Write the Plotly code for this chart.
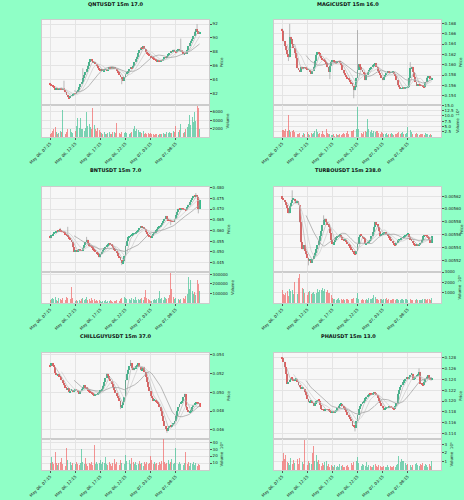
import plotly.graph_objects as go
import pandas as pd

# ---------------- data ----------------
titles = ["QNTUSDT 15m 17.0", "MAGICUSDT 15m 16.0", "BNTUSDT 15m 7.0",
          "TURBOUSDT 15m 238.0", "CHILLGUYUSDT 15m 37.0", "PHAUSDT 15m 13.0"]

tick_labels = ["May 06, 07:15", "May 06, 12:15", "May 06, 17:15",
               "May 06, 22:15", "May 07, 03:15", "May 07, 08:15"]
tick_index = [0, 20, 40, 60, 80, 100]

qnt_close = [83.3,83.1,82.9,82.8,82.6,82.7,82.5,82.6,82.8,82.6,
 82.7,82.4,82.1,81.8,81.5,81.3,81.6,81.7,81.8,82.0,
 81.9,82.2,82.5,82.9,83.3,83.6,84.2,84.6,85.0,85.5,
 86.0,86.5,86.9,86.6,86.4,86.5,86.2,85.9,85.6,85.4,
 85.3,85.5,85.2,85.4,85.4,85.3,85.5,85.7,85.6,85.8,
 85.6,85.8,85.5,85.2,85.0,84.7,84.4,84.1,83.8,84.3,
 84.8,85.0,85.2,85.5,85.7,85.6,86.0,86.5,86.9,87.3,
 87.8,88.2,88.6,88.5,88.8,88.4,88.0,87.8,87.6,87.4,
 87.2,87.1,87.0,86.9,86.8,86.6,86.7,86.6,86.8,86.7,
 86.9,87.2,87.1,87.4,87.6,87.8,88.1,88.0,88.3,88.1,
 87.9,88.2,88.4,88.1,88.2,87.9,87.6,87.8,87.7,88.2,
 88.8,89.2,89.6,89.9,90.3,90.9,91.3,91.0,90.6,90.8]
qnt_vol = [600,900,1500,1800,2400,1200,800,1000,1500,1200,
 6400,900,700,1200,1800,3600,2000,1100,900,1300,
 1500,2500,4600,2200,4600,1800,2000,1500,2200,6000,
 2600,3000,2400,2000,7000,2800,1800,1500,2200,1600,
 1200,900,800,1100,700,600,900,1200,700,800,
 1300,1100,900,3400,1400,1000,800,1200,1500,1000,
 1100,900,1300,700,1000,1200,1800,2600,1500,2000,
 1600,1300,1200,1000,1500,800,900,700,1000,600,
 900,700,800,500,600,700,500,600,800,600,
 900,800,700,1200,900,1100,1000,900,1400,1200,
 2600,1500,1200,1600,3200,1400,1000,1200,1800,2400,
 3000,5200,2800,4800,3600,6000,3800,7400,6800,2000]

magic_close = [0.1666,0.1645,0.1636,0.1628,0.1620,0.1614,0.1654,0.1649,0.1640,0.1632,
 0.1622,0.1612,0.1593,0.1590,0.1586,0.1596,0.1593,0.1595,0.1594,0.1592,
 0.1590,0.1590,0.1586,0.1582,0.1588,0.1596,0.1608,0.1619,0.1624,0.1622,
 0.1616,0.1612,0.1610,0.1609,0.1606,0.1603,0.1595,0.1586,0.1598,0.1606,
 0.1609,0.1606,0.1604,0.1603,0.1607,0.1606,0.1604,0.1599,0.1590,0.1583,
 0.1580,0.1577,0.1574,0.1570,0.1567,0.1564,0.1558,0.1550,0.1556,0.1575,
 0.1590,0.1601,0.1596,0.1590,0.1586,0.1583,0.1570,0.1580,0.1586,0.1590,
 0.1593,0.1596,0.1599,0.1601,0.1603,0.1596,0.1588,0.1584,0.1580,0.1575,
 0.1570,0.1576,0.1580,0.1584,0.1586,0.1585,0.1584,0.1585,0.1586,0.1582,
 0.1578,0.1570,0.1561,0.1556,0.1553,0.1554,0.1555,0.1554,0.1555,0.1556,
 0.1556,0.1575,0.1593,0.1596,0.1586,0.1577,0.1567,0.1559,0.1562,0.1561,
 0.1560,0.1559,0.1557,0.1556,0.1566,0.1575,0.1577,0.1578,0.1572,0.1574]
magic_vol = [3.2,3.5,2.8,3.6,3.0,10.3,3.4,2.2,3.0,3.3,
 2.5,1.8,1.2,1.6,2.0,1.4,1.0,1.8,1.2,1.6,
 2.2,1.5,1.0,1.8,1.2,2.0,2.8,3.6,2.4,1.5,
 1.8,1.2,2.6,1.4,1.0,3.8,2.0,1.2,1.6,1.0,
 0.8,1.2,0.6,1.4,1.0,0.8,1.2,0.9,1.6,2.0,
 1.2,1.8,2.6,1.6,2.2,2.8,3.0,3.4,3.2,4.0,
 14.0,3.6,2.8,2.0,1.6,2.4,3.0,2.2,8.3,3.6,
 2.5,3.2,2.0,2.8,2.2,3.0,2.6,2.0,1.6,2.4,
 1.8,1.4,1.2,1.8,1.0,1.6,1.2,2.0,1.4,1.1,
 1.5,1.2,1.8,2.2,1.6,1.9,2.4,1.2,1.5,2.0,
 4.8,2.6,3.4,2.2,1.6,2.0,1.4,1.8,1.2,1.0,
 1.6,1.2,1.4,1.0,1.8,1.3,1.6,1.1,1.4,1.0]

bnt_close = [0.4564,0.4578,0.4584,0.4590,0.4592,0.4598,0.4595,0.4601,0.4600,0.4597,
 0.4594,0.4592,0.4583,0.4576,0.4570,0.4564,0.4556,0.4548,0.4522,0.4500,
 0.4506,0.4500,0.4509,0.4513,0.4508,0.4505,0.4520,0.4532,0.4545,0.4557,
 0.4540,0.4529,0.4524,0.4521,0.4512,0.4505,0.4500,0.4494,0.4486,0.4474,
 0.4488,0.4500,0.4510,0.4516,0.4525,0.4532,0.4538,0.4541,0.4535,0.4529,
 0.4520,0.4513,0.4504,0.4494,0.4482,0.4474,0.4460,0.4447,0.4455,0.4482,
 0.4529,0.4550,0.4568,0.4572,0.4576,0.4580,0.4584,0.4588,0.4592,0.4596,
 0.4600,0.4610,0.4620,0.4612,0.4615,0.4605,0.4592,0.4584,0.4576,0.4570,
 0.4568,0.4576,0.4584,0.4592,0.4600,0.4608,0.4615,0.4620,0.4624,0.4635,
 0.4643,0.4655,0.4668,0.4655,0.4647,0.4645,0.4643,0.4641,0.4640,0.4655,
 0.4671,0.4688,0.4702,0.4700,0.4702,0.4701,0.4699,0.4696,0.4694,0.4708,
 0.4721,0.4732,0.4742,0.4752,0.4762,0.4760,0.4765,0.4758,0.4700,0.4742]
bnt_vol = [30000,45000,55000,40000,60000,35000,25000,50000,40000,30000,
 55000,45000,30000,60000,50000,35000,40000,168000,50000,40000,
 25000,30000,20000,35000,25000,40000,50000,30000,45000,60000,
 35000,40000,25000,55000,30000,45000,20000,35000,25000,30000,
 20000,15000,25000,20000,30000,15000,20000,25000,30000,20000,
 15000,25000,20000,30000,35000,25000,40000,55000,45000,60000,
 50000,40000,30000,45000,35000,55000,40000,30000,60000,35000,
 45000,30000,40000,50000,35000,60000,133000,55000,40000,35000,
 20000,25000,30000,45000,35000,40000,55000,120000,45000,50000,
 35000,60000,50000,45000,55000,80000,316000,150000,60000,45000,
 50000,55000,40000,35000,45000,60000,55000,40000,75000,95000,
 274000,150000,240000,120000,90000,110000,80000,240000,200000,120000]

turbo_close = [0.005616,0.005614,0.005611,0.005606,0.005601,0.005593,0.005604,0.005610,0.005614,0.005616,
 0.005613,0.005610,0.005612,0.005606,0.005579,0.005548,0.005537,0.005543,0.005535,0.005529,
 0.005524,0.005519,0.005521,0.005516,0.005522,0.005527,0.005532,0.005537,0.005543,0.005550,
 0.005558,0.005566,0.005575,0.005582,0.005585,0.005579,0.005576,0.005572,0.005562,0.005551,
 0.005545,0.005548,0.005552,0.005556,0.005557,0.005558,0.005560,0.005556,0.005553,0.005551,
 0.005552,0.005549,0.005546,0.005543,0.005540,0.005537,0.005534,0.005531,0.005529,0.005534,
 0.005545,0.005556,0.005560,0.005558,0.005556,0.005554,0.005545,0.005547,0.005548,0.005550,
 0.005551,0.005557,0.005564,0.005572,0.005579,0.005576,0.005572,0.005565,0.005558,0.005560,
 0.005561,0.005563,0.005564,0.005561,0.005558,0.005556,0.005553,0.005550,0.005547,0.005545,
 0.005543,0.005547,0.005551,0.005552,0.005553,0.005555,0.005556,0.005557,0.005558,0.005560,
 0.005561,0.005556,0.005552,0.005550,0.005547,0.005545,0.005543,0.005544,0.005543,0.005545,
 0.005547,0.005552,0.005557,0.005559,0.005558,0.005557,0.005556,0.005551,0.005547,0.005558]
turbo_vol = [1230,900,800,1000,1140,700,1380,1200,1230,900,
 1990,700,900,2460,2770,2620,1500,1380,1000,1020,
 800,1080,1140,900,1000,1080,900,1000,1380,1100,
 1230,1300,1450,1200,1380,1100,1230,1000,920,800,
 500,350,420,300,380,450,320,400,280,350,
 300,420,380,300,260,350,400,450,380,500,
 920,420,350,300,400,330,280,380,300,450,
 350,420,500,760,550,400,350,300,420,380,
 280,350,400,450,300,380,320,280,350,400,
 300,360,420,330,280,350,400,300,380,420,
 320,280,350,300,260,380,300,340,280,320,
 260,300,350,420,380,300,360,400,330,450]

chill_close = [0.05275,0.05304,0.05285,0.05268,0.05204,0.05179,0.05190,0.05170,0.05161,0.05125,
 0.05100,0.05071,0.05050,0.05025,0.05040,0.05000,0.05015,0.05025,0.05010,0.05018,
 0.05030,0.05025,0.05000,0.04982,0.05010,0.05036,0.05055,0.05071,0.05050,0.05036,
 0.05020,0.05007,0.04995,0.04982,0.04970,0.04964,0.04970,0.04975,0.04990,0.05000,
 0.05018,0.05036,0.05070,0.05107,0.05150,0.05196,0.05170,0.05143,0.05115,0.05089,
 0.05050,0.05018,0.04990,0.04964,0.04940,0.04911,0.04839,0.04860,0.04900,0.04946,
 0.05125,0.05190,0.05239,0.05275,0.05304,0.05260,0.05232,0.05255,0.05275,0.05290,
 0.05304,0.05270,0.05232,0.05250,0.05268,0.05210,0.05161,0.05110,0.05054,0.05010,
 0.04964,0.04940,0.04911,0.04920,0.04904,0.04890,0.04875,0.04840,0.04804,0.04750,
 0.04696,0.04643,0.04610,0.04589,0.04620,0.04643,0.04635,0.04654,0.04670,0.04689,
 0.04750,0.04804,0.04840,0.04875,0.04890,0.04904,0.04950,0.04982,0.04839,0.04810,
 0.04786,0.04795,0.04804,0.04840,0.04868,0.04880,0.04893,0.04890,0.04882,0.04846]
chill_vol = [9.5,19,12,8,26,10,7,9.5,12,17,
 8,10,6,32,14,9,11,7,10,6,
 8,12,9,7,10,30,12,8,17,9,
 6,10,8,12,7,36,9,11,8,10,
 15,8,12,10,19,9,7,11,8,6,
 10,16,8,12,9,7,14,10,12,9,
 21,13,10,15,9,17,11,8,12,7,
 9,13,8,10,6,11,8,12,9,10,
 20,14,9,12,8,10,7,12,9,13,
 44,12,8,10,14,9,11,16,8,10,
 31,17,9,12,8,11,7,10,26,9,
 12,6,10,8,11,7,10,6,9,7]

pha_close = [0.12785,0.12723,0.12620,0.12506,0.12319,0.12350,0.12390,0.12430,0.12412,0.12381,
 0.12400,0.12412,0.12350,0.12288,0.12250,0.12226,0.12240,0.12226,0.12160,0.12102,
 0.12040,0.11978,0.11990,0.12009,0.11960,0.11916,0.11960,0.11996,0.12020,0.12009,
 0.11930,0.11853,0.11840,0.11822,0.11840,0.11853,0.11835,0.11822,0.11805,0.11791,
 0.11800,0.11791,0.11810,0.11822,0.11870,0.11916,0.11930,0.11947,0.11910,0.11884,
 0.11840,0.11791,0.11750,0.11711,0.11670,0.11636,0.11543,0.11530,0.11512,0.11636,
 0.11750,0.11853,0.11900,0.11947,0.11980,0.12009,0.12050,0.12083,0.12110,0.12133,
 0.12125,0.12120,0.12140,0.12164,0.12140,0.12102,0.12060,0.12009,0.11960,0.11916,
 0.11880,0.11853,0.11860,0.11872,0.11885,0.11897,0.11890,0.11884,0.11870,0.11853,
 0.11900,0.11959,0.12133,0.12200,0.12257,0.12300,0.12350,0.12380,0.12412,0.12430,
 0.12420,0.12443,0.12480,0.12506,0.12394,0.12420,0.12450,0.12475,0.12500,0.12537,
 0.12319,0.12300,0.12288,0.12350,0.12412,0.12450,0.12475,0.12430,0.12381,0.12431]
pha_vol = [1.0,2.0,1.3,1.8,0.9,0.8,0.6,1.4,0.7,1.2,
 0.8,0.6,1.3,0.7,1.4,0.5,0.9,0.7,3.5,2.5,
 0.6,1.0,0.8,0.7,2.0,2.8,1.0,1.8,0.9,1.2,
 0.7,0.5,0.8,0.6,0.9,1.0,0.5,0.7,0.4,0.6,
 0.5,0.4,0.6,0.3,0.5,0.4,0.7,0.5,0.6,0.4,
 0.3,0.5,0.6,0.4,0.7,0.8,0.6,0.9,0.7,1.0,
 1.5,0.8,0.6,0.5,0.7,0.6,0.5,0.9,0.4,0.6,
 0.5,0.3,0.4,0.6,0.7,0.5,0.4,0.6,0.5,0.3,
 0.4,0.5,0.3,0.4,0.6,0.3,0.5,0.4,0.3,0.5,
 0.4,0.6,0.7,1.6,0.9,1.3,1.0,1.1,0.8,0.6,
 0.7,0.5,0.6,0.4,0.6,0.5,0.7,0.8,0.6,0.5,
 0.7,0.6,0.8,0.5,0.7,0.6,0.4,0.7,0.5,1.1]

first_open = [83.5, 0.1670, 0.4575, 0.005620, 0.05290, 0.12800]

# wick extremes beyond the candle bodies: index -> (high, low)
qnt_wicks = {11: (83.8, None), 26: (85.6, None), 57: (None, 83.3), 104: (89.9, None), 117: (92.0, None)}
magic_wicks = {5: (None, 0.1607), 6: (0.1679, None), 38: (None, 0.1572), 57: (None, 0.1535),
               60: (0.1667, None), 102: (0.1605, None)}
bnt_wicks = {8: (0.4612, None), 14: (0.4617, None), 29: (0.4570, None), 57: (None, 0.4438),
             96: (None, 0.4625), 116: (0.4775, None), 118: (None, 0.4680)}
turbo_wicks = {8: (0.005629, None), 21: (None, 0.005512), 33: (0.005590, None)}
chill_wicks = {56: (None, 0.04820), 64: (0.05340, None), 93: (None, 0.04570)}
pha_wicks = {0: (0.12810, None), 58: (None, 0.11440), 109: (0.12600, None)}

closes = [qnt_close, magic_close, bnt_close, turbo_close, chill_close, pha_close]
volumes = [qnt_vol, magic_vol, bnt_vol, turbo_vol, chill_vol, pha_vol]
wicks = [qnt_wicks, magic_wicks, bnt_wicks, turbo_wicks, chill_wicks, pha_wicks]

# ---------------- styling / axes config ----------------
price_cfg = [
    dict(rng=[80.29, 92.59], ticks=[82, 84, 86, 88, 90, 92], fmt=".0f"),
    dict(rng=[0.15219, 0.16865], ticks=[0.154, 0.156, 0.158, 0.160, 0.162, 0.164, 0.166, 0.168], fmt=".3f"),
    dict(rng=[0.44058, 0.48033], ticks=[0.445, 0.450, 0.455, 0.460, 0.465, 0.470, 0.475, 0.480], fmt=".3f"),
    dict(rng=[0.0055016, 0.0056342], ticks=[0.00552, 0.00554, 0.00556, 0.00558, 0.00560, 0.00562], fmt=".5f"),
    dict(rng=[0.045036, 0.054143], ticks=[0.046, 0.048, 0.050, 0.052, 0.054], fmt=".3f"),
    dict(rng=[0.113006, 0.128845], ticks=[0.114, 0.116, 0.118, 0.120, 0.122, 0.124, 0.126, 0.128], fmt=".3f"),
]
vol_cfg = [
    dict(rng=[0, 7600], ticks=[2000, 4000, 6000], fmt="d", title="Volume"),
    dict(rng=[0, 15.1], ticks=[2.5, 5.0, 7.5, 10.0, 12.5, 15.0], fmt=".1f", title="Volume  10⁴"),
    dict(rng=[0, 322800], ticks=[100000, 200000, 300000], fmt="d", title="Volume"),
    dict(rng=[0, 3000], ticks=[1000, 2000, 3000], fmt="d", title="Volume  10³"),
    dict(rng=[0, 44.5], ticks=[10, 20, 30, 40], fmt="d", title="Volume  10⁴"),
    dict(rng=[0, 3.6], ticks=[1, 2, 3], fmt="d", title="Volume  10⁶"),
]

W, H = 464, 500
BG = "#8FFFC6"
PLOT_BG = "#f7f7f7"
GRID = "#e4e4e4"
UP = "#36bf8e"
DOWN = "#ef5b5b"
UP_V = "rgba(54,191,142,0.65)"
DOWN_V = "rgba(239,91,91,0.65)"
MA_COLORS = ["#b5b5b5", "#cdcdcd", "#9c9c9c"]
MA_WINDOWS = [5, 10, 20]
FONT = "DejaVu Sans"

col_px = [(42, 209), (274, 441)]
row_px = [((20, 105), (105, 137)), ((187, 272), (272, 303)), ((353, 439), (439, 470))]
title_px = [4, 170, 336]

fig = go.Figure()
layout = dict(
    width=W, height=H, margin=dict(l=0, r=0, t=0, b=0, autoexpand=False),
    paper_bgcolor=BG, plot_bgcolor=PLOT_BG, showlegend=False,
    font=dict(family=FONT, size=4, color="#222"),
    annotations=[],
)


def ax(n):
    return ("xaxis" if n == 1 else f"xaxis{n}"), ("yaxis" if n == 1 else f"yaxis{n}"), \
           ("x" if n == 1 else f"x{n}"), ("y" if n == 1 else f"y{n}")


for k in range(6):
    r, c = divmod(k, 2)
    cl = closes[k]
    vol = volumes[k]
    n = len(cl)
    idx = list(range(n))
    opens = [first_open[k]] + cl[:-1]
    highs = [max(o, cc) for o, cc in zip(opens, cl)]
    lows = [min(o, cc) for o, cc in zip(opens, cl)]
    for i, (hi, lo) in wicks[k].items():
        if hi is not None:
            highs[i] = max(highs[i], hi)
        if lo is not None:
            lows[i] = min(lows[i], lo)
    up = [cc >= o for o, cc in zip(opens, cl)]
    pc = price_cfg[k]
    span = pc["rng"][1] - pc["rng"][0]
    body_b = [min(o, cc) for o, cc in zip(opens, cl)]
    body_h = [max(abs(cc - o), span * 0.006) for o, cc in zip(opens, cl)]

    npx, npy = 2 * k + 1, 2 * k + 2
    pxa, pya, pxr, pyr = ax(npx)
    vxa, vya, vxr, vyr = ax(npy)

    # wicks
    wx, wy = [], []
    for i in idx:
        wx += [i, i, None]
        wy += [lows[i], highs[i], None]
    fig.add_trace(go.Scatter(x=wx, y=wy, mode="lines", line=dict(color="#8f8f8f", width=0.6),
                             xaxis=pxr, yaxis=pyr, hoverinfo="skip"))
    # moving averages
    s = pd.Series(cl)
    for w, mc in zip(MA_WINDOWS, MA_COLORS):
        ma = s.rolling(w).mean()
        fig.add_trace(go.Scatter(x=idx, y=ma, mode="lines", line=dict(color=mc, width=0.7),
                                 xaxis=pxr, yaxis=pyr, hoverinfo="skip"))
    # bodies
    fig.add_trace(go.Bar(x=idx, y=body_h, base=body_b, width=0.75,
                         marker=dict(color=[UP if u else DOWN for u in up], line=dict(width=0)),
                         xaxis=pxr, yaxis=pyr))
    # volume
    fig.add_trace(go.Bar(x=idx, y=vol, width=0.75,
                         marker=dict(color=[UP_V if u else DOWN_V for u in up], line=dict(width=0)),
                         xaxis=vxr, yaxis=vyr))

    xd = [col_px[c][0] / W, col_px[c][1] / W]
    (pt, pb), (vt, vb) = row_px[r]
    pdom = [1 - pb / H, 1 - pt / H]
    vdom = [1 - vb / H, 1 - vt / H]
    xr = [-6.5, 126.5]
    common_x = dict(domain=xd, range=xr, showgrid=True, gridcolor=GRID, gridwidth=0.6,
                    zeroline=False, tickvals=tick_index, showline=True, linecolor="#cccccc",
                    linewidth=0.6, mirror=True, automargin=False)
    layout[pxa] = dict(common_x, anchor=pyr, showticklabels=False, ticks="")
    layout[vxa] = dict(common_x, anchor=vyr, ticktext=tick_labels, tickangle=-45,
                       ticks="outside", ticklen=2, tickwidth=0.5, tickcolor="#555",
                       tickfont=dict(size=4, family=FONT, color="#222"))
    layout[pya] = dict(domain=pdom, anchor=pxr, side="right", range=pc["rng"], tickvals=pc["ticks"],
                       tickformat=pc["fmt"], showgrid=True, gridcolor=GRID, gridwidth=0.6,
                       zeroline=False, ticks="outside", ticklen=2, tickwidth=0.5, tickcolor="#555",
                       tickfont=dict(size=4, family=FONT, color="#222"), automargin=False,
                       showline=True, linecolor="#cccccc", linewidth=0.6, mirror=True,
                       title=dict(text="Price", font=dict(size=4, family=FONT), standoff=3))
    vc = vol_cfg[k]
    layout[vya] = dict(domain=vdom, anchor=vxr, side="right", range=vc["rng"], tickvals=vc["ticks"],
                       tickformat=vc["fmt"], showgrid=True, gridcolor=GRID, gridwidth=0.6,
                       zeroline=False, ticks="outside", ticklen=2, tickwidth=0.5, tickcolor="#555",
                       tickfont=dict(size=4, family=FONT, color="#222"), automargin=False,
                       showline=True, linecolor="#cccccc", linewidth=0.6, mirror=True,
                       title=dict(text=vc["title"], font=dict(size=4, family=FONT), standoff=3))
    layout["annotations"].append(dict(
        text=f"<b>{titles[k]}</b>", x=(0.25 if c == 0 else 0.75), y=1 - title_px[r] / H,
        xref="paper", yref="paper", xanchor="center", yanchor="middle", showarrow=False,
        font=dict(size=5, family=FONT, color="#111")))

fig.update_layout(**layout)
fig.update_layout(bargap=0)
fig.write_html("out.html")
